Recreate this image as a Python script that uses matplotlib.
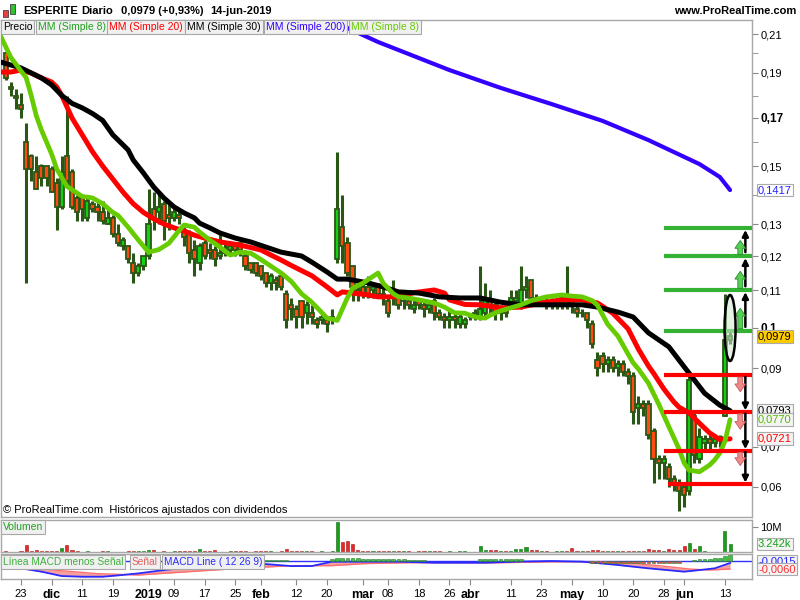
import numpy as np
import matplotlib
matplotlib.use("Agg")
import matplotlib.pyplot as plt
from matplotlib.patches import Ellipse, Rectangle
from matplotlib.transforms import IdentityTransform

plt.rcParams['font.family'] = ['Liberation Sans', 'DejaVu Sans']

W, H = 800, 600

# ---------------- data (daily candles, 20-nov-2018 .. 14-jun-2019) ----------------
opens = [
    .200, .184, .180, .176, .160, .154, .148, .150, .150, .149,
    .144, .136, .154, .148, .139, .139, .132, .137, .136, .134,
    .130, .132, .127, .123, .123, .118, .115, .117, .120, .135,
    .134, .137, .133, .132, .133, .128, .127, .122, .118, .124,
    .122, .122, .120, .121, .122, .123, .124, .120, .118, .118,
    .117, .115, .112, .113, .114, .109, .106, .105, .107, .104,
    .104, .102, .102, .102, .102, .119, .129, .124, .117, .110,
    .111, .111, .110, .111, .109, .107, .108, .108, .107, .107,
    .105, .107, .106, .105, .107, .104, .103, .102, .103, .101,
    .101, .103, .103, .103, .104, .107, .106, .104, .105, .106,
    .107, .106, .110, .113, .108, .107, .107, .107, .106, .106,
    .108, .108, .105, .104, .104, .101, .092, .093, .091, .092,
    .090, .091, .089, .088, .080, .081, .081, .074, .067, .066,
    .065, .062, .061, .060, .059, .078, .067, .071, .072, .071,
    .072, .078, .097]
highs = [
    .201, .186, .183, .181, .168, .155, .154, .151, .150, .150,
    .146, .154, .180, .149, .140, .140, .139, .138, .138, .138,
    .135, .133, .130, .126, .123, .121, .118, .120, .142, .141,
    .141, .138, .137, .136, .135, .129, .128, .125, .124, .125,
    .124, .123, .127, .124, .124, .124, .124, .122, .118, .118,
    .117, .115, .115, .114, .115, .110, .108, .106, .107, .107,
    .106, .103, .104, .103, .105, .156, .140, .126, .117, .112,
    .112, .114, .112, .112, .111, .108, .113, .110, .109, .109,
    .108, .108, .107, .106, .108, .105, .104, .105, .104, .104,
    .103, .104, .105, .117, .112, .110, .107, .106, .106, .110,
    .110, .117, .114, .113, .109, .108, .108, .108, .108, .109,
    .117, .109, .106, .105, .104, .102, .094, .094, .093, .093,
    .092, .092, .090, .089, .083, .082, .082, .075, .068, .068,
    .066, .063, .062, .061, .088, .079, .075, .073, .073, .073,
    .073, .109, .099]
lows = [
    .187, .180, .174, .170, .112, .145, .142, .143, .143, .141,
    .128, .135, .143, .135, .131, .131, .131, .134, .131, .130,
    .130, .126, .123, .122, .118, .112, .114, .116, .119, .128,
    .130, .125, .128, .131, .130, .123, .118, .114, .116, .119,
    .119, .117, .119, .120, .121, .120, .120, .116, .115, .114,
    .113, .111, .110, .110, .110, .100, .102, .100, .100, .101,
    .101, .100, .101, .099, .101, .118, .118, .114, .107, .107,
    .108, .108, .108, .108, .106, .103, .106, .105, .105, .105,
    .104, .105, .103, .104, .102, .102, .100, .100, .100, .100,
    .100, .102, .102, .102, .103, .104, .102, .102, .103, .105,
    .106, .105, .108, .107, .106, .106, .105, .105, .105, .105,
    .105, .104, .103, .103, .100, .095, .088, .089, .089, .089,
    .088, .088, .086, .076, .076, .078, .072, .061, .062, .062,
    .060, .059, .054, .055, .058, .066, .066, .069, .069, .070,
    .070, .078, .096]
closes = [
    .188, .183, .179, .174, .149, .149, .142, .146, .146, .141,
    .136, .148, .145, .136, .134, .135, .138, .135, .134, .131,
    .132, .127, .124, .125, .119, .115, .117, .120, .130, .132,
    .136, .131, .132, .134, .132, .126, .121, .119, .123, .120,
    .121, .119, .121, .122, .123, .122, .122, .117, .116, .115,
    .114, .112, .114, .112, .111, .102, .105, .103, .103, .106,
    .103, .101, .103, .101, .103, .135, .123, .115, .111, .109,
    .109, .109, .111, .109, .108, .104, .109, .106, .107, .106,
    .106, .106, .105, .106, .104, .103, .102, .103, .102, .103,
    .102, .103, .104, .105, .108, .106, .104, .105, .104, .108,
    .108, .110, .111, .108, .107, .107, .106, .106, .107, .108,
    .107, .106, .104, .104, .102, .096, .090, .091, .092, .090,
    .091, .089, .088, .079, .081, .080, .073, .067, .066, .067,
    .062, .061, .059, .058, .087, .068, .0725, .072, .071, .072,
    .0725, .097, .0979]
volumes_m = [
    0.4, 0.2, 0.2, 0.4, 3.0, 0.4, 0.8, 0.5, 0.5, 0.5,
    0.5, 1.5, 3.0, 0.8, 0.3, 0.2, 0.4, 0.1, 0.2, 0.3,
    0.4, 0.2, 0.2, 0.2, 0.3, 0.4, 0.4, 0.5, 0.8, 0.8,
    0.2, 0.4, 0.2, 0.4, 0.4, 0.4, 0.4, 0.4, 1.2, 0.5,
    0.5, 0.8, 0.2, 0.1, 0.3, 0.4, 0.4, 0.4, 0.1, 0.4,
    0.4, 0.4, 0.4, 0.2, 0.5, 1.2, 0.4, 0.4, 0.4, 0.4,
    0.4, 0.2, 0.3, 0.2, 0.5, 12.0, 4.0, 4.3, 3.3, 0.8,
    0.6, 0.6, 0.5, 0.4, 0.4, 0.4, 0.6, 0.5, 0.4, 0.4,
    0.2, 0.4, 0.4, 0.4, 0.4, 0.4, 0.2, 0.4, 0.2, 0.4,
    0.4, 0.2, 0.2, 2.5, 1.0, 0.8, 0.8, 0.5, 0.4, 0.6,
    1.2, 1.2, 2.0, 1.0, 0.8, 0.5, 0.5, 0.2, 0.3, 0.3,
    0.4, 1.5, 0.5, 0.5, 0.5, 0.8, 0.8, 0.5, 0.5, 0.5,
    0.5, 0.4, 0.5, 0.4, 0.3, 0.3, 1.2, 0.8, 0.8, 0.6,
    1.2, 0.8, 0.8, 2.5, 3.8, 1.2, 2.5, 0.3, 0.2, 0.2,
    0.2, 8.4, 3.242]

# moving averages (bar index, value)
ma8_idx = [-1, 1, 3, 4, 5, 6, 7, 9, 10, 12, 15, 17, 19, 21, 22, 24, 26, 28, 30, 32,
           34, 35, 37, 38, 40, 42, 44, 46, 48, 50, 52, 54, 56, 58, 60, 62, 63, 65, 66, 67,
           68, 70, 71, 73, 74, 76, 77, 79, 81, 84, 86, 88, 90, 92, 94, 95, 97, 99, 101, 103,
           106, 109, 111, 113, 115, 116, 117, 118, 120, 122, 123, 124, 126, 128, 130, 132, 133, 134, 136, 138,
           139, 140, 141, 142]
ma8_val = [.209, .198, .191, .188, .180, .171, .165, .155, .149, .143, .1395, .139, .137, .134, .133, .129, .125, .1212, .122, .124,
           .128, .1297, .129, .1275, .125, .1228, .1203, .1212, .1209, .119, .117, .115, .1125, .109, .1068, .104, .1026, .102, .105, .108,
           .1105, .112, .113, .115, .112, .109, .1082, .1079, .1074, .1066, .1055, .104, .1039, .1029, .1026, .1034, .1045, .1053, .1061, .1072,
           .1082, .1087, .1084, .1082, .1072, .106, .1035, .101, .098, .0935, .0913, .0898, .0862, .081, .0752, .0695, .066, .0642, .0638, .0655,
           .0668, .0685, .0715, .0770]
ma20_idx = [-1, 1, 3, 5, 7, 9, 10, 11, 12, 13, 15, 17, 19, 21, 23, 25, 27, 29, 31, 33,
            35, 37, 39, 42, 46, 50, 52, 54, 56, 58, 60, 62, 63, 65, 66, 68, 71, 73, 77, 80,
            84, 86, 87, 90, 93, 97, 101, 105, 109, 113, 116, 119, 122, 124, 126, 127, 129, 131, 132, 134,
            136, 138, 140, 142]
ma20_val = [.1905, .1905, .1915, .190, .1878, .186, .1838, .180, .175, .170, .163, .156, .150, .1455, .141, .137, .134, .1318, .130, .1288,
            .1278, .1265, .1256, .1244, .1234, .1219, .1203, .1188, .1172, .1157, .1142, .112, .1109, .1087, .1095, .1092, .1087, .1082, .1082, .1093,
            .110, .1092, .1074, .1062, .1061, .1053, .1055, .1066, .1074, .1074, .1066, .1039, .0998, .0948, .0905, .0887, .0848, .0815, .0802, .0787,
            .0761, .0736, .0719, .0721]
ma30_idx = [-1, 1, 3, 5, 7, 9, 11, 13, 15, 17, 19, 21, 24, 25, 27, 29, 31, 33, 35, 37,
            38, 40, 42, 45, 48, 51, 54, 58, 60, 63, 65, 67, 71, 74, 77, 81, 85, 89, 93, 97,
            101, 109, 113, 116, 120, 123, 126, 130, 133, 135, 137, 140, 142]
ma30_val = [.1956, .1941, .1926, .190, .1878, .1847, .180, .1765, .1745, .172, .169, .163, .1567, .1525, .1476, .1428, .139, .1359, .1338, .1321,
            .1303, .1288, .1272, .1256, .1244, .1228, .1212, .120, .1182, .1153, .1132, .1132, .1121, .1109, .1095, .1092, .1082, .1079, .1079, .1068,
            .1061, .1061, .1061, .1055, .1042, .1029, .0988, .0953, .0903, .087, .0837, .0807, .0793]
ma200_idx = [58, 62, 66, 73, 80, 87, 97, 107, 117, 126, 131, 136, 140, 142]
ma200_val = [.2215, .2179, .2147, .2059, .1987, .1915, .1834, .1762, .1688, .1608, .1558, .1508, .1462, .1417]

# MACD panel values
macd_idx = [-1, 3, 7, 11, 15, 19, 22, 26, 30, 34, 38, 45, 51, 56, 60, 64, 71, 77, 84, 94,
            100, 107, 113, 120, 126, 133, 136, 139, 142]
macd_val = [-.0040, -.0055, -.0080, -.0113, -.0118, -.0118, -.0108, -.0093, -.0073, -.0055,
            -.0043, -.0038, -.0023, -.0038, -.0038, -.0005, -.0005, -.0005, -.0013, -.0013,
            -.0005, .0000, -.0005, -.0030, -.0055, -.0080, -.0068, -.0055, -.0015]
signal_idx = [-1, 3, 10, 18, 26, 34, 44, 56, 64, 70, 80, 95, 107, 115, 122, 128, 134, 138, 142]
signal_val = [-.0030, -.0040, -.0070, -.0095, -.0105, -.0085, -.0060, -.0035, -.0035, -.0020,
              -.0012, -.0014, -.0006, -.0005, -.0015, -.0035, -.0060, -.0068, -.0060]
hist_idx = [51, 52, 53, 54, 55, 64, 65, 66, 67, 68, 69, 70, 71, 72, 73, 74, 75, 76, 77, 78,
            79, 80, 81, 82, 93, 94, 95, 96, 97, 98, 99, 100, 101,
            115, 116, 117, 118, 119, 120, 121, 122, 123, 124, 125, 126, 127, 128, 129, 130, 131, 132,
            135, 136, 137, 138, 139, 140, 141, 142]
hist_val = [.0008, .0008, .0008, .0008, .0008, .0015, .0025, .0025, .0025, .0025, .0025, .0015, .0015, .0015, .0015, .0015, .0015, .0015, .0015, .0015,
            .0010, .0010, .0010, .0010, .0012, .0012, .0012, .0012, .0012, .0012, .0012, .0012, .0012,
            -.0015, -.0015, -.0015, -.0015, -.0015, -.0015, -.0015, -.0015, -.0015, -.0015, -.0015, -.0015, -.0015, -.0015, -.0015, -.0015, -.0015, -.0015,
            .0010, .0012, .0012, .0015, .0020, .0025, .0035, .0045]

tick_idx = [3, 9, 15, 21, 28, 33, 39, 45, 50, 57, 63, 70, 75, 81, 87, 91, 99, 105, 111, 117, 123, 129, 133, 141]
tick_lbl = ['23', 'dic', '11', '19', '2019', '09', '17', '25', 'feb', '12', '20', 'mar', '08', '18', '26',
            'abr', '11', '23', 'may', '10', '20', '28', 'jun', '13']
bold_lbl = ['dic', '2019', 'feb', 'mar', 'abr', 'may', 'jun']

price_ticks = [0.21, 0.19, 0.17, 0.15, 0.13, 0.12, 0.11, 0.10, 0.09, 0.07, 0.06]
price_lbls = ['0,21', '0,19', '0,17', '0,15', '0,13', '0,12', '0,11', '0,1', '0,09', '0,07', '0,06']
minor_ticks = [0.20, 0.18, 0.16, 0.14]

res_levels = [0.1288, 0.1200, 0.1100, 0.0993]
sup_levels = [0.0882, 0.0790, 0.0691, 0.0608]

# ---------------- colours ----------------
UP, DOWN, WICK = '#10d010', '#ff4a10', '#2b5716'
GRID = '#a8a8a8'

fig = plt.figure(figsize=(8, 6), dpi=100)
fig.patch.set_facecolor('white')


def rect(x0, y0, x1, y1):
    return [x0 / W, 1 - y1 / H, (x1 - x0) / W, (y1 - y0) / H]


def fx(px):
    return px / W


def fy(py):
    return 1 - py / H


ax = fig.add_axes(rect(1, 20, 752, 517))
axv = fig.add_axes(rect(1, 520, 752, 552), sharex=ax)
axm = fig.add_axes(rect(1, 554, 752, 579), sharex=ax)

# price scale of the chart (log-like above 0.1, linear below)
scale_vals = np.array([0.03, 0.06, 0.07, 0.08, 0.09, 0.10, 0.11, 0.12, 0.13, 0.15, 0.17, 0.19, 0.21, 0.23, 0.30])
scale_pix = np.array([606, 487, 447, 408, 368, 328, 290, 256, 224, 166, 118, 73, 34, -1.5, -105])


def fwd(v):
    return np.interp(v, scale_vals, -scale_pix)


def inv(p):
    return np.interp(p, -scale_pix, scale_vals)


ax.set_yscale('function', functions=(fwd, inv))
ax.set_ylim(inv(-517), inv(-20))
ax.set_xlim(-0.92, 146.3)

for a in (ax, axv, axm):
    for s in a.spines.values():
        s.set_color(GRID)
        s.set_linewidth(1)
    a.set_facecolor('white')

# ---------------- candles ----------------
idx = np.arange(len(closes))
o, h, l, c = map(np.array, (opens, highs, lows, closes))
up = c >= o
ax.vlines(idx, l, h, color=WICK, lw=2.2, zorder=2)
ax.bar(idx, np.abs(c - o), bottom=np.minimum(o, c), width=0.82,
       color=np.where(up, UP, DOWN), edgecolor=WICK, lw=1.3, zorder=3)

# ---------------- moving averages ----------------
ax.plot(ma200_idx, ma200_val, color='#3300ff', lw=3.0, zorder=4, solid_capstyle='round')
ax.plot(ma20_idx, ma20_val, color='#ff0000', lw=3.6, zorder=4, solid_capstyle='round')
ax.plot(ma30_idx, ma30_val, color='#000000', lw=3.6, zorder=5, solid_capstyle='round')
ax.plot(ma8_idx, ma8_val, color='#66cc00', lw=3.4, zorder=6, solid_capstyle='round')

# ---------------- levels and arrows ----------------
ax.hlines(res_levels, 129.1, 146.3, color='#33b233', lw=3.0, zorder=7)
ax.hlines(sup_levels[:3], 129.1, 146.3, color='#ff0000', lw=3.0, zorder=7)
ax.hlines(sup_levels[3:], 129.9, 146.3, color='#ff0000', lw=3.0, zorder=7)

xa, xb = 145.0, 144.0
for lo, hi in zip(res_levels[1:], res_levels[:-1]):
    ax.annotate('', xy=(xa, hi * 0.995), xytext=(xa, lo * 1.01),
                arrowprops=dict(arrowstyle='-|>', color='k', lw=1.8, mutation_scale=9,
                                shrinkA=0, shrinkB=0), zorder=8)
for hi_, lo_ in zip(sup_levels[:-1], sup_levels[1:]):
    ax.annotate('', xy=(xa, lo_ * 1.005), xytext=(xa, hi_ * 0.995),
                arrowprops=dict(arrowstyle='-|>', color='k', lw=1.8, mutation_scale=9,
                                shrinkA=0, shrinkB=0), zorder=8)
for lo, hi in zip(res_levels[1:], res_levels[:-1]):
    ax.annotate('', xy=(xb, lo + (hi - lo) * 0.55), xytext=(xb, lo + (hi - lo) * 0.05),
                arrowprops=dict(arrowstyle='simple,head_width=1.1,head_length=0.8,tail_width=0.5',
                                fc='#55d055', ec='#2a8a2a', lw=0.6, mutation_scale=7,
                                shrinkA=0, shrinkB=0), zorder=8)
for hi_, lo_ in zip(sup_levels[:-1], sup_levels[1:]):
    ax.annotate('', xy=(xb, hi_ - (hi_ - lo_) * 0.45), xytext=(xb, hi_ - (hi_ - lo_) * 0.05),
                arrowprops=dict(arrowstyle='simple,head_width=1.1,head_length=0.8,tail_width=0.5',
                                fc='#f08a8a', ec='#c85a5a', lw=0.6, mutation_scale=7,
                                shrinkA=0, shrinkB=0), zorder=8)

# ellipse around the last candle
cx, cy = ax.transData.transform((idx[-1], 0.1))
ax.add_patch(Ellipse((cx, cy), 11, 66, transform=IdentityTransform(), fc='#cfe8cf', alpha=0.55,
                     ec='none', zorder=8))
ax.add_patch(Ellipse((cx, cy), 11, 66, transform=IdentityTransform(), fc='none',
                     ec='black', lw=1.8, zorder=9))

# ---------------- price axis ----------------
ax.yaxis.tick_right()
ax.set_yticks(price_ticks)
ax.set_yticklabels(price_lbls)
ax.set_yticks(minor_ticks, minor=True)
ax.tick_params(axis='y', which='both', direction='out', length=4, color='#888888',
               labelsize=8, pad=2)
for t in ax.get_yticklabels():
    if t.get_text() in ('0,17', '0,1'):
        t.set_fontweight('bold')
        t.set_fontsize(8.5)
ax.tick_params(axis='x', which='both', bottom=False, labelbottom=False)

ytr = ax.get_yaxis_transform()
boxes = [(0.1417, '0,1417', '#2222ff', 'white'),
         (0.0979, '0,0979', 'black', '#ffcc00'),
         (0.0793, '0,0793', 'black', '#f4f4f4'),
         (0.0770, '0,0770', '#55bb00', '#f4f4f4'),
         (0.0721, '0,0721', '#ff0000', '#f4f4f4')]
for v, s, col, bg in boxes:
    ax.text(1.008, v, s, transform=ytr, color=col, fontsize=8, ha='left', va='center',
            clip_on=False, zorder=20,
            bbox=dict(boxstyle='square,pad=0.12', fc=bg, ec='#aaaaaa', lw=0.8))

# ---------------- volume ----------------
vcol = np.where(up, '#18a018', '#e82828')
axv.bar(idx, volumes_m, width=0.6, color=vcol, edgecolor=np.where(up, '#106010', '#a01010'), lw=0.4)
axv.set_ylim(0, 12.8)
axv.yaxis.tick_right()
axv.set_yticks([10])
axv.set_yticklabels(['10M'])
axv.tick_params(axis='y', direction='out', length=4, color='#888888', labelsize=8, pad=2)
axv.tick_params(axis='x', which='both', bottom=False, labelbottom=False)
axv.text(1.008, volumes_m[-1], '3.242k', transform=axv.get_yaxis_transform(), color='#18a018',
         fontsize=8, ha='left', va='center', clip_on=False,
         bbox=dict(boxstyle='square,pad=0.12', fc='#f4f4f4', ec='#aaaaaa', lw=0.8))

# ---------------- MACD ----------------
axm.axhline(0, color='#3030ff', lw=1.0, zorder=2)
m_x = np.array(macd_idx, float)
s_x = np.array(signal_idx, float)
axm.fill_between(m_x, macd_val, np.interp(m_x, s_x, signal_val), color='#f4a0a0', lw=0, zorder=1)
axm.plot(signal_idx, signal_val, color='#ff7070', lw=1.0, zorder=3)
axm.plot(macd_idx, macd_val, color='#2a2aff', lw=1.3, zorder=4)
hcol = ['#40c040' if v > 0 else '#e05050' for v in hist_val]
axm.bar(hist_idx, hist_val, width=0.75, color=hcol, edgecolor='#2b7a2b', lw=0.4, zorder=5)
axm.set_ylim(-0.0135, 0.00525)
axm.set_yticks([])
axm.set_xticks(tick_idx)
axm.set_xticklabels(tick_lbl)
axm.tick_params(axis='x', direction='out', length=4, color='#888888', labelsize=8, pad=3)
for t in axm.get_xticklabels():
    if t.get_text() in bold_lbl:
        t.set_fontweight('bold')
        t.set_fontsize(9)
mtr = axm.get_yaxis_transform()
axm.text(1.008, 0.0, '-0,0015', transform=mtr, color='#2222ff', fontsize=8, ha='left',
         va='center', clip_on=False, zorder=5,
         bbox=dict(boxstyle='square,pad=0.12', fc='#f4f4f4', ec='#aaaaaa', lw=0.8))
axm.text(1.008, -0.0060, '-0,0060', transform=mtr, color='#ff3030', fontsize=8, ha='left',
         va='center', clip_on=False, zorder=10,
         bbox=dict(boxstyle='square,pad=0.12', fc='#f4f4f4', ec='#aaaaaa', lw=0.8))

# ---------------- legends / header ----------------
def box_text(px, py, s, col, size=7.5, weight='normal'):
    fig.text(fx(px), fy(py), s, color=col, fontsize=size, fontweight=weight, ha='left',
             va='center', zorder=30,
             bbox=dict(boxstyle='square,pad=0.18', fc='#f0f0f0', ec='#a8a8a8', lw=0.8))


box_text(3, 27, 'Precio', 'black')
box_text(38, 27, 'MM (Simple 8)', '#20a020')
box_text(109, 27, 'MM (Simple 20)', '#ff0000')
box_text(187, 27, 'MM (Simple 30)', 'black')
box_text(266, 27, 'MM (Simple 200)', '#3300ff')
box_text(351, 27, 'MM (Simple 8)', '#66cc00')
box_text(3, 527, 'Volumen', '#20a020')
box_text(3, 562, 'Línea MACD menos Señal', '#40b040', size=7.3)
box_text(132, 562, 'Señal', '#e06060', size=7.3)
box_text(164, 562, 'MACD Line ( 12 26 9)', '#2a2aff', size=7.3)

fig.text(fx(3), fy(510), '© ProRealTime.com  Históricos ajustados con dividendos', fontsize=8,
         ha='left', va='center')

fig.text(fx(23), fy(11), 'ESPERITE', fontsize=8, fontweight='bold', ha='left', va='center')
fig.text(fx(81), fy(11), 'Diario', fontsize=8, fontweight='bold', ha='left', va='center')
fig.text(fx(121), fy(11), '0,0979 (+0,93%)', fontsize=8, fontweight='bold', ha='left', va='center')
fig.text(fx(210), fy(11), '14-jun-2019', fontsize=8, fontweight='bold', ha='left', va='center')
fig.text(fx(796), fy(11), 'www.ProRealTime.com', fontsize=8, fontweight='bold', ha='right', va='center')

# small candle icon
fig.patches.append(Rectangle((fx(3), fy(17)), 5 / W, 7 / H, transform=fig.transFigure,
                             fc='#e84040', ec='#404040', lw=0.6))
fig.patches.append(Rectangle((fx(10), fy(14)), 5 / W, 10 / H, transform=fig.transFigure,
                             fc='#30c030', ec='#404040', lw=0.6))

fig.savefig('out.png', dpi=100)
